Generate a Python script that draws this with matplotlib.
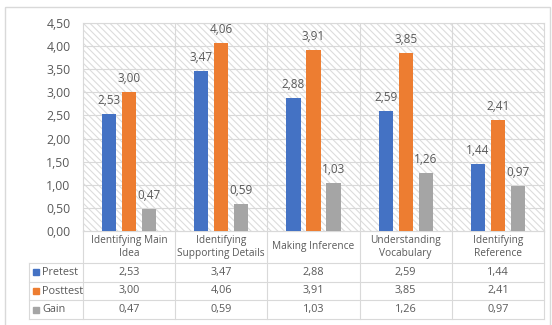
import matplotlib
matplotlib.use("Agg")
import matplotlib.pyplot as plt
from matplotlib.patches import Rectangle
import numpy as np

categories = ["Identifying Main\nIdea", "Identifying\nSupporting Details",
              "Making Inference", "Understanding\nVocabulary", "Identifying\nReference"]
series_names = ["Pretest", "Posttest", "Gain"]
pretest = [2.53, 3.47, 2.88, 2.59, 1.44]
posttest = [3.00, 4.06, 3.91, 3.85, 2.41]
gain = [0.47, 0.59, 1.03, 1.26, 0.97]
colors = ["#4472c4", "#ed7d31", "#a5a5a5"]
yticks = [0.0, 0.5, 1.0, 1.5, 2.0, 2.5, 3.0, 3.5, 4.0, 4.5]

def fmt(v):
    return f"{v:.2f}".replace(".", ",")

plt.rcParams["font.family"] = ["Open Sans", "DejaVu Sans"]
plt.rcParams["hatch.linewidth"] = 0.8
txt = "#595959"
grid = "#d9d9d9"

W, H = 552, 325
fig = plt.figure(figsize=(W / 100, H / 100), dpi=100)

# overlay in pixel coordinates for frame and table
ov = fig.add_axes([0, 0, 1, 1])
ov.set_xlim(0, W)
ov.set_ylim(H, 0)
ov.axis("off")
ov.add_patch(Rectangle((5, 7), 545, 330, fill=False, ec="#d9d9d9", lw=1))

x0, x1, ytop, ybot = 83, 544, 23, 231
ax = fig.add_axes([x0 / W, (H - ybot) / H, (x1 - x0) / W, (ybot - ytop) / H])
ax.set_xlim(-0.5, len(categories) - 0.5)
ax.set_ylim(0, 4.5)
ax.add_patch(Rectangle((0, 0), 1, 1, transform=ax.transAxes, fill=False,
                       hatch="\\" * 5, ec="#dcdcdc", lw=0, zorder=0))
for s in ax.spines.values():
    s.set_color(grid)
    s.set_linewidth(0.8)
ax.set_yticks(yticks)
ax.set_yticklabels([fmt(v) for v in yticks], color=txt, fontsize=8.8)
ax.tick_params(axis="y", length=0, pad=9)
ax.set_xticks([])
ax.grid(axis="y", color=grid, lw=0.8, zorder=1)
for b in np.arange(0.5, len(categories) - 0.5, 1):
    ax.axvline(b, color=grid, lw=0.8, zorder=1)

x = np.arange(len(categories))
offs = [-0.217, 0.0, 0.217]
for vals, c, o in zip([pretest, posttest, gain], colors, offs):
    bars = ax.bar(x + o, vals, width=0.155, color=c, zorder=3)
    for r, v in zip(bars, vals):
        ax.annotate(fmt(v), (r.get_x() + r.get_width() / 2, v), xytext=(0, 5),
                    textcoords="offset points", ha="center", va="bottom",
                    fontsize=8.5, color=txt, zorder=4)

# data table under the plot
to_px = lambda xd: (ax.transData.transform((xd, 0))[0]) * 100 / fig.dpi
edges = [to_px(e) for e in np.arange(-0.5, len(categories), 1)]
centers = [to_px(c) for c in x]
rows = [231, 263, 281.7, 300.3, 319]
left = 29
for i, y in enumerate(rows):
    ov.plot([edges[0] if i == 0 else left, edges[-1]], [y, y], color=grid, lw=0.8)
for e in edges:
    ov.plot([e, e], [rows[0], rows[-1]], color=grid, lw=0.8)
ov.plot([left, left], [rows[1], rows[-1]], color=grid, lw=0.8)
for cx, name in zip(centers, categories):
    ov.text(cx, (rows[0] + rows[1]) / 2, name, ha="center", va="center",
            fontsize=7.3, color=txt, linespacing=1.3)
for k, (name, vals, c) in enumerate(zip(series_names, [pretest, posttest, gain], colors)):
    yc = (rows[k + 1] + rows[k + 2]) / 2
    ov.add_patch(Rectangle((left + 4, yc - 3), 6, 6, color=c))
    ov.text(left + 13, yc, name, ha="left", va="center", fontsize=7.8, color=txt)
    for cx, v in zip(centers, vals):
        ov.text(cx, yc, fmt(v), ha="center", va="center", fontsize=7.8, color=txt)

fig.savefig("out.png", dpi=100)
